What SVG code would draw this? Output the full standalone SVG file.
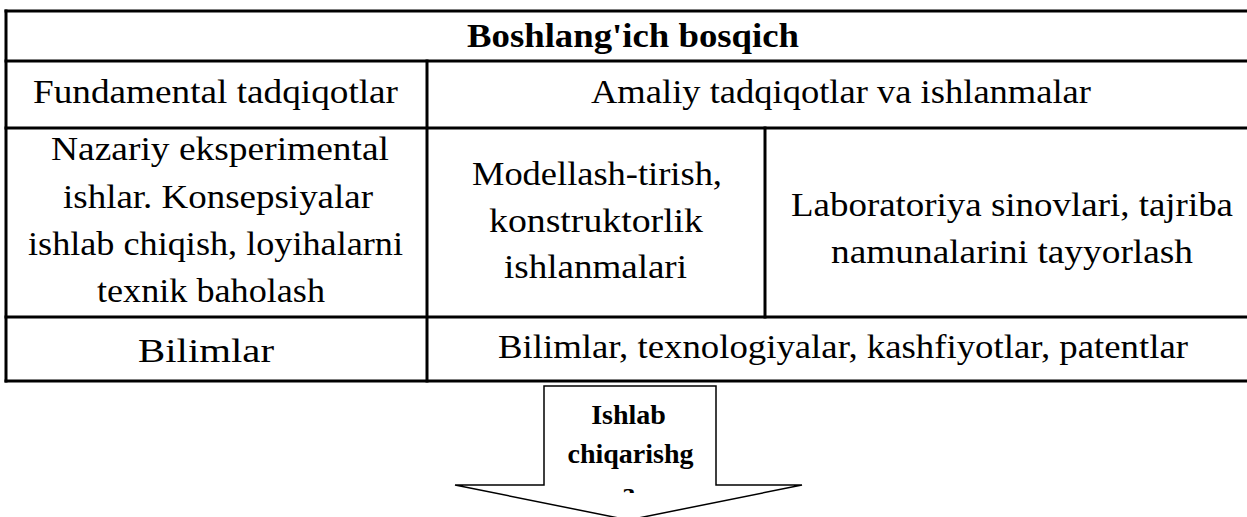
<svg xmlns="http://www.w3.org/2000/svg" width="1247" height="517" viewBox="0 0 1247 517">
  <style>
    .t { font-family: "Liberation Serif", "DejaVu Serif", serif; font-size: 33px; fill: #000; text-anchor: middle; }
    .b { font-weight: bold; }
    .ln { stroke: #000; stroke-width: 3; fill: none; stroke-linecap: square; }
    .arr { fill: #fff; stroke: #000; stroke-width: 1.5; stroke-linejoin: miter; }
    .at { font-family: "Liberation Serif", "Times New Roman", serif; font-size: 28px; font-weight: bold; fill: #000; text-anchor: middle; }
  </style>
  <defs>
    <clipPath id="arrowClip">
      <rect x="545" y="387" width="170" height="106"/>
    </clipPath>
  </defs>
  <rect x="0" y="0" width="1247" height="517" fill="#fff"/>

  <g id="connectors">
    <line class="ln" x1="6" y1="11" x2="1262" y2="11"/>
    <line class="ln" x1="6" y1="61" x2="1262" y2="61"/>
    <line class="ln" x1="6" y1="128" x2="1262" y2="128"/>
    <line class="ln" x1="6" y1="317" x2="1262" y2="317"/>
    <line class="ln" x1="6" y1="381" x2="1262" y2="381"/>
    <line class="ln" x1="6" y1="11" x2="6" y2="381"/>
    <line class="ln" x1="427" y1="61" x2="427" y2="381"/>
    <line class="ln" x1="765" y1="128" x2="765" y2="317"/>
  </g>

  <g id="title">
    <text class="t b" x="633" y="47" textLength="332" lengthAdjust="spacingAndGlyphs">Boshlang'ich bosqich</text>
  </g>
  <g id="fundamental">
    <text class="t" x="215.5" y="103" textLength="365" lengthAdjust="spacingAndGlyphs">Fundamental tadqiqotlar</text>
  </g>
  <g id="amaliy">
    <text class="t" x="841" y="103" textLength="500" lengthAdjust="spacingAndGlyphs">Amaliy tadqiqotlar va ishlanmalar</text>
  </g>
  <g id="nazariy">
    <text class="t" x="220" y="160" textLength="338" lengthAdjust="spacingAndGlyphs">Nazariy eksperimental</text>
    <text class="t" x="218" y="207.5" textLength="310" lengthAdjust="spacingAndGlyphs">ishlar. Konsepsiyalar</text>
    <text class="t" x="215.5" y="255" textLength="375" lengthAdjust="spacingAndGlyphs">ishlab chiqish, loyihalarni</text>
    <text class="t" x="211" y="302" textLength="228" lengthAdjust="spacingAndGlyphs">texnik baholash</text>
  </g>
  <g id="modellash">
    <text class="t" x="597" y="185" textLength="250" lengthAdjust="spacingAndGlyphs">Modellash-tirish,</text>
    <text class="t" x="596" y="231.5" textLength="214" lengthAdjust="spacingAndGlyphs">konstruktorlik</text>
    <text class="t" x="595.5" y="278" textLength="183" lengthAdjust="spacingAndGlyphs">ishlanmalari</text>
  </g>
  <g id="laboratoriya">
    <text class="t" x="1012" y="215.5" textLength="442" lengthAdjust="spacingAndGlyphs">Laboratoriya sinovlari, tajriba</text>
    <text class="t" x="1012" y="262.5" textLength="362" lengthAdjust="spacingAndGlyphs">namunalarini tayyorlash</text>
  </g>
  <g id="bilimlar">
    <text class="t" x="206" y="362" textLength="136" lengthAdjust="spacingAndGlyphs">Bilimlar</text>
  </g>
  <g id="bilimlar-texnologiyalar">
    <text class="t" x="843" y="358" textLength="690" lengthAdjust="spacingAndGlyphs">Bilimlar, texnologiyalar, kashfiyotlar, patentlar</text>
  </g>

  <g id="arrow">
    <polygon class="arr" points="544,386 716,386 716,485 802,485 628.5,520 455,485 544,485"/>
    <g clip-path="url(#arrowClip)">
      <text class="at" x="628.5" y="423.5">Ishlab</text>
      <text class="at" x="630.5" y="463">chiqarishg</text>
      <text class="at" x="628.5" y="502">a</text>
    </g>
  </g>
</svg>
